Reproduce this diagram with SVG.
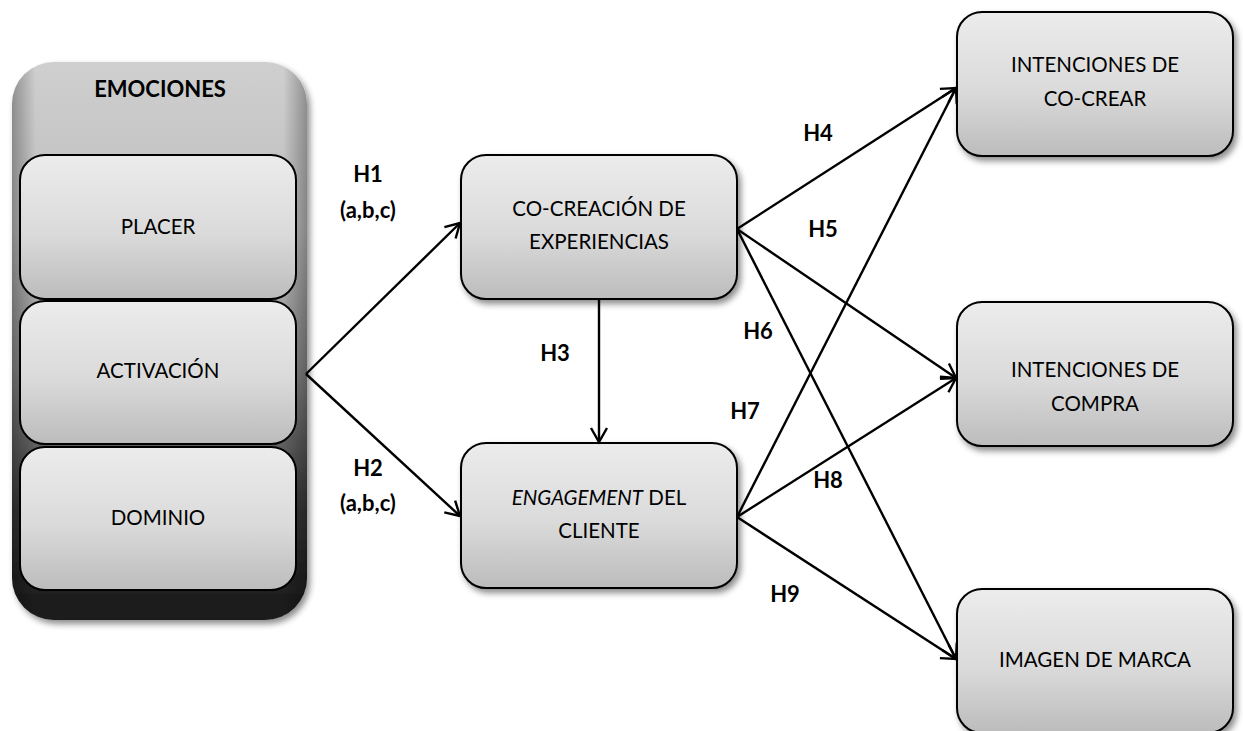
<svg xmlns="http://www.w3.org/2000/svg" width="1243" height="731" viewBox="0 0 1243 731">
<defs>
<linearGradient id="boxg" x1="0" y1="0" x2="0" y2="1">
<stop offset="0" stop-color="#ececec"/>
<stop offset="0.55" stop-color="#dadada"/>
<stop offset="1" stop-color="#bcbcbc"/>
</linearGradient>
<linearGradient id="contg" x1="0" y1="0" x2="0" y2="1">
<stop offset="0" stop-color="#cfcfcf"/>
<stop offset="0.3" stop-color="#bdbdbd"/>
<stop offset="0.55" stop-color="#8a8a8a"/>
<stop offset="0.8" stop-color="#3a3a3a"/>
<stop offset="0.93" stop-color="#222"/>
<stop offset="1" stop-color="#1a1a1a"/>
</linearGradient>
<linearGradient id="conth" x1="0" y1="0" x2="1" y2="0">
<stop offset="0" stop-color="#000" stop-opacity="0.3"/>
<stop offset="0.08" stop-color="#000" stop-opacity="0"/>
<stop offset="0.92" stop-color="#000" stop-opacity="0"/>
<stop offset="1" stop-color="#000" stop-opacity="0.3"/>
</linearGradient>
<filter id="sh" x="-10%" y="-10%" width="130%" height="130%">
<feDropShadow dx="3" dy="4" stdDeviation="3" flood-color="#000" flood-opacity="0.45"/>
</filter>
<marker id="arr" markerUnits="userSpaceOnUse" markerWidth="22" markerHeight="22" viewBox="0 0 22 22" refX="16" refY="11" orient="auto">
<path d="M2,3 L16,11 L2,19" fill="none" stroke="#000" stroke-width="2.4"/>
</marker>
</defs>
<style>
.box{fill:url(#boxg);stroke:#000;stroke-width:2;filter:url(#sh)}
.ibox{fill:url(#boxg);stroke:#000;stroke-width:2}
.t{font-family:Lato,"Open Sans","Liberation Sans",sans-serif;font-size:20.5px;fill:#000;text-anchor:middle}
.b{font-weight:bold;font-size:22px}
.c{stroke:#000;stroke-width:2.4;fill:none;marker-end:url(#arr)}
</style>
<rect width="1243" height="731" fill="#fff"/>

<g id="emociones">
<rect x="12" y="62" width="295" height="558" rx="42" fill="url(#contg)" filter="url(#sh)"/>
<rect x="12" y="62" width="295" height="558" rx="42" fill="url(#conth)"/>
<text class="t b" x="160" y="97">EMOCIONES</text>
</g>
<g id="placer">
<rect class="ibox" x="20" y="155" width="276" height="144" rx="25"/>
<text class="t" x="158" y="234">PLACER</text>
</g>
<g id="activacion">
<rect class="ibox" x="20" y="301" width="276" height="143" rx="25"/>
<text class="t" x="158" y="378">ACTIVACIÓN</text>
</g>
<g id="dominio">
<rect class="ibox" x="20" y="447" width="276" height="143" rx="25"/>
<text class="t" x="158" y="525">DOMINIO</text>
</g>

<g id="cocreacion">
<rect class="box" x="461" y="155" width="276" height="144" rx="25"/>
<text class="t" x="599" y="216">CO-CREACIÓN DE</text>
<text class="t" x="599" y="249">EXPERIENCIAS</text>
</g>
<g id="engagement">
<rect class="box" x="461" y="443" width="276" height="145" rx="25"/>
<text class="t" x="599" y="505"><tspan font-style="italic">ENGAGEMENT</tspan> DEL</text>
<text class="t" x="599" y="538">CLIENTE</text>
</g>
<g id="int-cocrear">
<rect class="box" x="957" y="12" width="276" height="144" rx="25"/>
<text class="t" x="1095" y="72">INTENCIONES DE</text>
<text class="t" x="1095" y="106">CO-CREAR</text>
</g>
<g id="int-compra">
<rect class="box" x="957" y="302" width="276" height="144" rx="25"/>
<text class="t" x="1095" y="377">INTENCIONES DE</text>
<text class="t" x="1095" y="411">COMPRA</text>
</g>
<g id="imagen">
<rect class="box" x="957" y="589" width="276" height="144" rx="25"/>
<text class="t" x="1095" y="667">IMAGEN DE MARCA</text>
</g>

<g id="connectors">
<line class="c" x1="306" y1="374" x2="460" y2="223"/>
<line class="c" x1="306" y1="374" x2="460" y2="516"/>
<line class="c" x1="599" y1="299" x2="599" y2="442"/>
<line class="c" x1="737" y1="229" x2="956" y2="88"/>
<line class="c" x1="737" y1="229" x2="956" y2="378"/>
<line class="c" x1="737" y1="229" x2="956" y2="659"/>
<line class="c" x1="737" y1="517" x2="956" y2="88"/>
<line class="c" x1="737" y1="517" x2="956" y2="378"/>
<line class="c" x1="737" y1="517" x2="956" y2="659"/>
</g>

<g id="labels">
<text class="t b" x="368" y="182">H1</text>
<text class="t b" x="368" y="218">(a,b,c)</text>
<text class="t b" x="368" y="476">H2</text>
<text class="t b" x="368" y="511">(a,b,c)</text>
<text class="t b" x="555" y="361">H3</text>
<text class="t b" x="818" y="141">H4</text>
<text class="t b" x="823" y="237">H5</text>
<text class="t b" x="758" y="339">H6</text>
<text class="t b" x="745" y="419">H7</text>
<text class="t b" x="828" y="488">H8</text>
<text class="t b" x="785" y="602">H9</text>
</g>
</svg>
